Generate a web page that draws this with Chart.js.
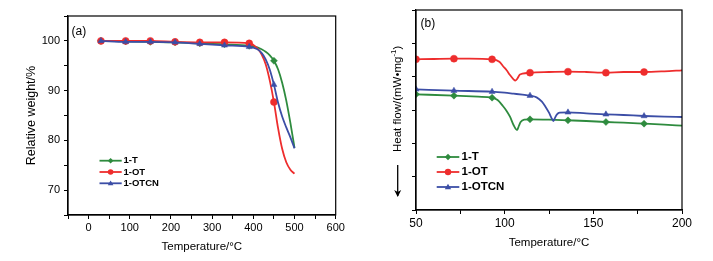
<!DOCTYPE html>
<html><head><meta charset="utf-8">
<script src="https://cdn.jsdelivr.net/npm/chart.js@4.4.0/dist/chart.umd.min.js"></script>
<style>
html,body{margin:0;padding:0;background:#fff;width:713px;height:261px;overflow:hidden}
#ca{position:absolute;left:0;top:0}
#cb{position:absolute;left:356px;top:0}
</style></head><body>
<canvas id="ca" width="356" height="261"></canvas>
<canvas id="cb" width="357" height="261"></canvas>
<script>
const seriesNames = ['1-T', '1-OT', '1-OTCN'];
const seriesColors = ['#2e8b3e', '#ee2d2d', '#3c4ea6'];
const seriesMarkers = ['rectRot', 'circle', 'triangle'];

// Panel (a): TGA, relative weight (%) vs temperature (°C)
const tempA      = [30, 90, 150, 210, 270, 330, 390, 410, 420, 430, 440, 450, 460, 470, 480, 490, 500];
const weightT    = [100, 99.9, 99.8, 99.7, 99.5, 99.3, 99.0, 98.7, 98.3, 97.8, 97.1, 96.0, 94.3, 91.6, 88.0, 83.5, 78.5];
const weightOT   = [100, 100, 100, 99.8, 99.7, 99.7, 99.5, 98.5, 97.3, 95.3, 92.0, 87.7, 82.5, 78.3, 75.6, 74.1, 73.3];
const weightOTCN = [100, 99.8, 99.8, 99.7, 99.4, 99.1, 98.8, 98.3, 97.6, 96.3, 94.2, 91.2, 87.6, 84.8, 82.6, 80.6, 78.4];
const markerTempsA = [30, 90, 150, 210, 270, 330, 390, 450];
const xTickLabelsA = [0, 100, 200, 300, 400, 500, 600];
const yTickLabelsA = [70, 80, 90, 100];

// Panel (b): DSC, heat flow (arbitrary offset units) vs temperature (°C)
const tempB_T  = [50, 71.4, 85, 92.9, 96, 99, 101, 103, 105, 107, 108, 109, 111, 114.3, 125, 135.7, 146, 157.1, 167, 178.6, 190, 200];
const flowT    = [3.47, 3.43, 3.40, 3.37, 3.30, 3.12, 2.98, 2.80, 2.55, 2.40, 2.52, 2.64, 2.71, 2.72, 2.71, 2.69, 2.67, 2.64, 2.62, 2.59, 2.56, 2.53];
const tempB_OT = [50, 60, 71.4, 80, 92.9, 97, 99, 101, 103, 105, 106, 107, 108.5, 110, 114.3, 125, 135.7, 146, 157.1, 167, 178.6, 190, 200];
const flowOT   = [4.52, 4.53, 4.54, 4.54, 4.52, 4.45, 4.32, 4.20, 4.05, 3.92, 3.88, 3.93, 4.06, 4.09, 4.12, 4.14, 4.15, 4.14, 4.12, 4.14, 4.14, 4.16, 4.19];
const tempB_OTCN = [50, 71.4, 92.9, 100, 105, 110, 114.3, 118, 121, 123, 125, 126.5, 127.5, 128.5, 129.5, 131, 135.7, 146, 157.1, 167, 178.6, 190, 200];
const flowOTCN   = [3.62, 3.58, 3.55, 3.52, 3.49, 3.46, 3.43, 3.38, 3.25, 3.10, 2.92, 2.75, 2.67, 2.78, 2.87, 2.92, 2.93, 2.90, 2.87, 2.85, 2.82, 2.80, 2.79];
const markerTempsB = [50, 71.4, 92.9, 114.3, 135.7, 157.1, 178.6];
const xTickLabelsB = [50, 100, 150, 200];

const FONT = 'Arial, "Liberation Sans", sans-serif';
Chart.defaults.font.family = FONT;

function pts(xs, ys) { return xs.map((x, i) => ({x: x, y: ys[i]})); }

function drawMarker(ctx, style, x, y, r, color) {
  ctx.save();
  ctx.fillStyle = color;
  ctx.beginPath();
  if (style === 'circle') {
    ctx.arc(x, y, r, 0, Math.PI * 2);
  } else if (style === 'rectRot') {
    ctx.moveTo(x, y - r); ctx.lineTo(x + r, y); ctx.lineTo(x, y + r); ctx.lineTo(x - r, y); ctx.closePath();
  } else {
    const h = r * 1.7;
    ctx.moveTo(x, y - h * 0.6); ctx.lineTo(x + r, y + h * 0.4); ctx.lineTo(x - r, y + h * 0.4); ctx.closePath();
  }
  ctx.fill();
  ctx.restore();
}

function makeDatasets(xsList, ysList, markerTemps, r) {
  return xsList.map((xs, i) => ({
    label: seriesNames[i],
    data: pts(xs, ysList[i]),
    borderColor: seriesColors[i],
    backgroundColor: seriesColors[i],
    borderWidth: 1.8,
    pointStyle: seriesMarkers[i],
    pointBackgroundColor: seriesColors[i],
    pointBorderColor: seriesColors[i],
    pointBorderWidth: 0.5,
    pointRadius: ctx => (ctx.raw && markerTemps.includes(ctx.raw.x)) ? r : 0,
    cubicInterpolationMode: 'monotone',
    order: 3 - i,
    fill: false
  }));
}

const decoPlugin = {
  id: 'deco',
  afterDraw(chart, args, o) {
    const {ctx, chartArea: a} = chart;
    ctx.save();
    ctx.strokeStyle = '#000'; ctx.lineWidth = 1.2;
    ctx.strokeRect(a.left, a.top, a.right - a.left, a.bottom - a.top);
    ctx.fillStyle = '#000'; ctx.textBaseline = 'middle'; ctx.textAlign = 'left';
    ctx.font = o.labelFont;
    ctx.fillText(o.label, o.labelX, o.labelY);
    chart.data.datasets.forEach((ds, i) => {
      const y = o.legY + i * o.legDy;
      ctx.strokeStyle = ds.borderColor; ctx.lineWidth = ds.borderWidth;
      ctx.beginPath(); ctx.moveTo(o.legX0, y); ctx.lineTo(o.legX1, y); ctx.stroke();
      drawMarker(ctx, ds.pointStyle, (o.legX0 + o.legX1) / 2, y, o.legR, ds.borderColor);
      ctx.fillStyle = '#000'; ctx.font = o.legFont;
      ctx.fillText(ds.label, o.legX1 + o.legGap, y);
    });
    if (o.yTitle) {
      const t = o.yTitle;
      ctx.save();
      ctx.translate(t.x, t.yBottom);
      ctx.rotate(-Math.PI / 2);
      ctx.fillStyle = '#000'; ctx.textBaseline = 'middle'; ctx.textAlign = 'left';
      ctx.font = t.font;
      let px = 0;
      ctx.fillText(t.main, px, 0); px += ctx.measureText(t.main).width;
      ctx.font = t.supFont;
      ctx.fillText(t.sup, px, -4); px += ctx.measureText(t.sup).width;
      ctx.font = t.font;
      ctx.fillText(t.end, px, 0);
      ctx.restore();
      // arrow
      ctx.strokeStyle = '#000'; ctx.lineWidth = 1.3;
      ctx.beginPath(); ctx.moveTo(t.x, t.arrowTop); ctx.lineTo(t.x, t.arrowBottom - 1); ctx.stroke();
      ctx.fillStyle = '#000';
      ctx.beginPath();
      ctx.moveTo(t.x, t.arrowBottom);
      ctx.lineTo(t.x - 3.5, t.arrowBottom - 7);
      ctx.lineTo(t.x, t.arrowBottom - 5);
      ctx.lineTo(t.x + 3.5, t.arrowBottom - 7);
      ctx.closePath(); ctx.fill();
    }
    ctx.restore();
  }
};

function axisCommon(tickSize) {
  return {
    grid: {drawOnChartArea: false, drawTicks: true, tickLength: 4, tickColor: '#000', color: '#000', tickWidth: 1},
    border: {color: '#000', width: 1.2},
    ticks: {color: '#000', font: {family: FONT, size: tickSize}, autoSkip: false, maxRotation: 0}
  };
}

// Chart (a)
const axA_x = axisCommon(11);
Object.assign(axA_x, {
  type: 'linear', min: -50, max: 600,
  afterFit: s => { s.height = 46; },
  title: {display: true, text: 'Temperature/°C', color: '#000', font: {family: FONT, size: 11.5}, padding: {top: 0, bottom: 7.5}}
});
Object.assign(axA_x.ticks, {stepSize: 50, padding: 2, callback: v => xTickLabelsA.includes(v) ? String(v) : ''});
const axA_y = axisCommon(11);
Object.assign(axA_y, {
  min: 65, max: 105,
  afterFit: s => { s.width = 68; },
  title: {display: true, text: 'Relative weight/%', color: '#000', font: {family: FONT, size: 12.5}, padding: {top: 24, bottom: 0}}
});
Object.assign(axA_y.ticks, {stepSize: 5, padding: 4, callback: v => yTickLabelsA.includes(v) ? String(v) : ''});

new Chart(document.getElementById('ca'), {
  type: 'line',
  data: {datasets: makeDatasets([tempA, tempA, tempA], [weightT, weightOT, weightOTCN], markerTempsA, 3.5)},
  options: {
    responsive: false, animation: false, devicePixelRatio: 1,
    layout: {padding: {left: 0, top: 16, right: 20.3, bottom: 0}},
    plugins: {
      legend: {display: false}, tooltip: {enabled: false},
      deco: {label: '(a)', labelX: 71.5, labelY: 32, labelFont: '12px ' + FONT,
             legX0: 99.5, legX1: 121.7, legY: 160.7, legDy: 11.3, legR: 2.8, legGap: 1.8,
             legFont: 'bold 9.5px ' + FONT}
    },
    scales: {x: axA_x, y: axA_y}
  },
  plugins: [decoPlugin]
});

// Chart (b)
const axB_x = axisCommon(12);
Object.assign(axB_x, {
  type: 'linear', min: 50, max: 200,
  afterFit: s => { s.height = 51; },
  title: {display: true, text: 'Temperature/°C', color: '#000', font: {family: FONT, size: 11.5}, padding: {top: 0, bottom: 11}}
});
Object.assign(axB_x.ticks, {stepSize: 25, padding: 2, callback: v => xTickLabelsB.includes(v) ? String(v) : ''});
const axB_y = axisCommon(11);
Object.assign(axB_y, {
  min: 0, max: 6,
  afterFit: s => { s.width = 60; }
});
Object.assign(axB_y.ticks, {stepSize: 1, callback: () => ''});

new Chart(document.getElementById('cb'), {
  type: 'line',
  data: {datasets: makeDatasets([tempB_T, tempB_OT, tempB_OTCN], [flowT, flowOT, flowOTCN], markerTempsB, 3.5)},
  options: {
    responsive: false, animation: false, devicePixelRatio: 1,
    layout: {padding: {left: 0, top: 10, right: 31, bottom: 0}},
    plugins: {
      legend: {display: false}, tooltip: {enabled: false},
      deco: {label: '(b)', labelX: 64.5, labelY: 24, labelFont: '12px ' + FONT,
             legX0: 80.7, legX1: 103.3, legY: 157, legDy: 15, legR: 3.2, legGap: 2.2,
             legFont: 'bold 11.5px ' + FONT,
             yTitle: {x: 41.7, yBottom: 152, main: 'Heat flow/(mW•mg', sup: '-1', end: ')',
                      font: '11.5px ' + FONT, supFont: '8px ' + FONT, arrowTop: 165, arrowBottom: 197}}
    },
    scales: {x: axB_x, y: axB_y}
  },
  plugins: [decoPlugin]
});
</script>
</body></html>
